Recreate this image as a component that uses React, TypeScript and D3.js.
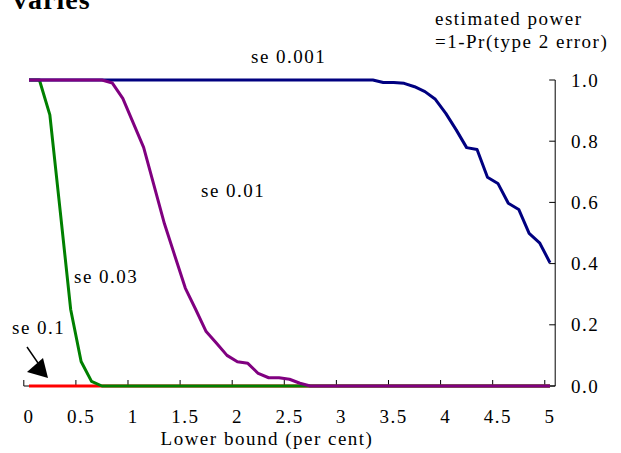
import React from "react";
import * as d3 from "d3";

const lowerBound = [
  0, 0.1, 0.2, 0.3, 0.4, 0.5, 0.6, 0.7, 0.8, 0.9,
  1, 1.1, 1.2, 1.3, 1.4, 1.5, 1.6, 1.7, 1.8, 1.9,
  2, 2.1, 2.2, 2.3, 2.4, 2.5, 2.6, 2.7, 2.8, 2.9,
  3, 3.1, 3.2, 3.3, 3.4, 3.5, 3.6, 3.7, 3.8, 3.9,
  4, 4.1, 4.2, 4.3, 4.4, 4.5, 4.6, 4.7, 4.8, 4.9, 5,
];

const se0001 = [
  1, 1, 1, 1, 1, 1, 1, 1, 1, 1,
  1, 1, 1, 1, 1, 1, 1, 1, 1, 1,
  1, 1, 1, 1, 1, 1, 1, 1, 1, 1,
  1, 1, 1, 1, 0.992, 0.992, 0.989, 0.978, 0.962, 0.937,
  0.891, 0.837, 0.779, 0.773, 0.682, 0.662, 0.597, 0.577, 0.499, 0.468, 0.403,
];

const se001 = [
  1, 1, 1, 1, 1, 1, 1, 1, 0.99, 0.94,
  0.86, 0.78, 0.655, 0.53, 0.425, 0.32, 0.25, 0.178, 0.14, 0.1,
  0.079, 0.074, 0.041, 0.027, 0.027, 0.022, 0.009, 0, 0, 0,
  0, 0, 0, 0, 0, 0, 0, 0, 0, 0,
  0, 0, 0, 0, 0, 0, 0, 0, 0, 0, 0,
];

const se003 = [
  1, 1, 0.886, 0.57, 0.25, 0.08, 0.015, 0, 0, 0,
  0, 0, 0, 0, 0, 0, 0, 0, 0, 0,
  0, 0, 0, 0, 0, 0, 0, 0, 0, 0,
  0, 0, 0, 0, 0, 0, 0, 0, 0, 0,
  0, 0, 0, 0, 0, 0, 0, 0, 0, 0, 0,
];

const se01 = [
  0, 0, 0, 0, 0, 0, 0, 0, 0, 0,
  0, 0, 0, 0, 0, 0, 0, 0, 0, 0,
  0, 0, 0, 0, 0, 0, 0, 0, 0, 0,
  0, 0, 0, 0, 0, 0, 0, 0, 0, 0,
  0, 0, 0, 0, 0, 0, 0, 0, 0, 0, 0,
];

const xTickLabels = ["0", "0.5", "1", "1.5", "2", "2.5", "3", "3.5", "4", "4.5", "5"];
const yTicks = [0, 0.2, 0.4, 0.6, 0.8, 1.0];

const series = [
  { name: "se 0.1", values: se01, color: "#FF0000" },
  { name: "se 0.03", values: se003, color: "#008000" },
  { name: "se 0.001", values: se0001, color: "#000080" },
  { name: "se 0.01", values: se001, color: "#800080" },
];

const FONT = "Liberation Serif, Times New Roman, Times, serif";

export default function App() {
  const W = 621;
  const H = 453;
  const left = 23.8;
  const right = 555.2;
  const top = 80;
  const bottom = 386;

  const x = d3
    .scaleBand<string>()
    .domain(lowerBound.map(String))
    .range([left, right])
    .paddingInner(0)
    .paddingOuter(0);
  const bw = x.bandwidth();
  const cx = (i: number) => (x(String(lowerBound[i])) as number) + bw / 2;

  const y = d3.scaleLinear().domain([0, 1]).range([bottom, top]);

  const line = d3
    .line<number>()
    .x((_, i) => cx(i))
    .y((d) => y(d));

  const tp = {
    fontFamily: FONT,
    fontSize: 19,
    letterSpacing: 1.5,
    fill: "#000",
  };

  const tickIdx = xTickLabels.map((t) => lowerBound.findIndex((v) => Math.abs(v - parseFloat(t)) < 1e-9));

  return (
    <svg
      width={W}
      height={H}
      style={{ position: "absolute", left: 0, top: 0, background: "#fff" }}
    >
      <rect x={0} y={0} width={W} height={H} fill="#fff" />
      {/* Title (cropped as in reference) */}
      <text x={13} y={9} fontFamily={FONT} fontSize={28} fontWeight="bold" letterSpacing={1}>
        varies
      </text>

      {/* Axis titles */}
      <text x={435} y={25} {...tp}>estimated power</text>
      <text x={435} y={48} {...tp}>=1-Pr(type 2 error)</text>
      <text x={267} y={445} textAnchor="middle" {...tp}>Lower bound (per cent)</text>

      {/* X axis */}
      <line x1={left} x2={right} y1={bottom} y2={bottom} stroke="#000" strokeWidth={1} />
      {tickIdx.map((i, k) => {
        const tx = x(String(lowerBound[i])) as number;
        return (
          <g key={"xt" + k}>
            <line x1={tx} x2={tx} y1={bottom} y2={bottom - 6} stroke="#000" strokeWidth={1} />
            <text x={cx(i)} y={423} textAnchor="middle" {...tp}>
              {xTickLabels[k]}
            </text>
          </g>
        );
      })}

      {/* Y axis (right) */}
      <line x1={right} x2={right} y1={top} y2={bottom} stroke="#000" strokeWidth={1} />
      {yTicks.map((t) => (
        <g key={"yt" + t}>
          <line x1={right - 6} x2={right} y1={y(t)} y2={y(t)} stroke="#000" strokeWidth={1} />
          <text x={571} y={y(t) + 6.5} {...tp}>
            {t.toFixed(1)}
          </text>
        </g>
      ))}

      {/* Series */}
      {series.map((s) => (
        <path
          key={s.name}
          d={line(s.values) as string}
          fill="none"
          stroke={s.color}
          strokeWidth={3}
          strokeLinejoin="round"
        />
      ))}

      {/* Series labels */}
      <text x={251} y={63} {...tp}>se 0.001</text>
      <text x={201} y={197} {...tp}>se 0.01</text>
      <text x={74} y={283} {...tp}>se 0.03</text>
      <text x={12} y={334} {...tp}>se 0.1</text>

      {/* Arrow */}
      <line x1={27} y1={347} x2={38} y2={363} stroke="#000" strokeWidth={1.5} />
      <polygon points="27,372 43,358 48,378" fill="#000" />
    </svg>
  );
}
